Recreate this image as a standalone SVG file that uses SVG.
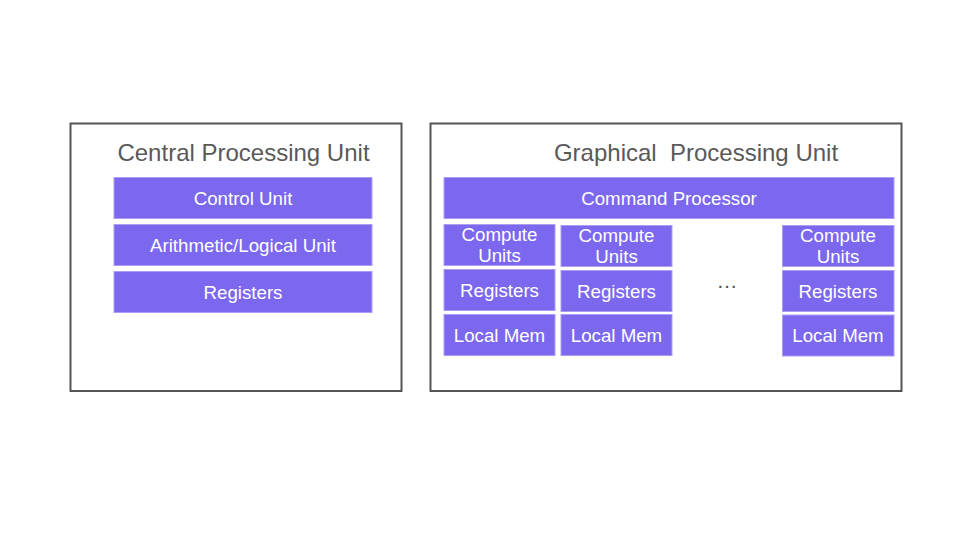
<svg xmlns="http://www.w3.org/2000/svg" width="960" height="540" viewBox="0 0 960 540">
<style>
.frame{fill:#fff;stroke:#555;stroke-width:2}
.blk{fill:#7b68ee;stroke:#a99ef4;stroke-width:1}
.title{font-family:"Liberation Sans",Arial,sans-serif;font-size:24px;fill:#595959;text-anchor:middle}
.lbl{font-family:"Liberation Sans",Arial,sans-serif;font-size:18.7px;fill:#fff;text-anchor:middle}
</style>
<rect width="960" height="540" fill="#fff"/>
<g id="cpu">
<rect class="frame" x="70.5" y="123.5" width="331" height="267.5"/>
<text class="title" x="243.5" y="161">Central Processing Unit</text>
</g>
<g id="control-unit"><rect class="blk" x="114" y="177.5" width="258" height="41"/><text class="lbl" x="243" y="204.5">Control Unit</text></g>
<g id="alu"><rect class="blk" x="114" y="224.5" width="258" height="41"/><text class="lbl" x="243" y="251.5">Arithmetic/Logical Unit</text></g>
<g id="cpu-registers"><rect class="blk" x="114" y="271.5" width="258" height="41"/><text class="lbl" x="243" y="298.5">Registers</text></g>
<g id="gpu">
<rect class="frame" x="430.5" y="123.5" width="471" height="267.5"/>
<text class="title" x="696" y="161" xml:space="preserve">Graphical  Processing Unit</text>
</g>
<g id="command-processor"><rect class="blk" x="444" y="177.5" width="450" height="41"/><text class="lbl" x="669" y="204.5">Command Processor</text></g>
<g id="cu1"><rect class="blk" x="444" y="224.5" width="111" height="41"/><text class="lbl" x="499.5" y="241">Compute</text><text class="lbl" x="499.5" y="262">Units</text></g>
<g id="reg1"><rect class="blk" x="444" y="269.5" width="111" height="41"/><text class="lbl" x="499.5" y="296.5">Registers</text></g>
<g id="mem1"><rect class="blk" x="444" y="314.5" width="111" height="41"/><text class="lbl" x="499.5" y="341.5">Local Mem</text></g>
<g id="cu2"><rect class="blk" x="561" y="225.5" width="111" height="41"/><text class="lbl" x="616.5" y="242">Compute</text><text class="lbl" x="616.5" y="263">Units</text></g>
<g id="reg2"><rect class="blk" x="561" y="270.5" width="111" height="41"/><text class="lbl" x="616.5" y="297.5">Registers</text></g>
<g id="mem2"><rect class="blk" x="561" y="314.5" width="111" height="41"/><text class="lbl" x="616.5" y="341.5">Local Mem</text></g>
<g id="cu3"><rect class="blk" x="782.5" y="225.5" width="111.5" height="41"/><text class="lbl" x="838" y="242">Compute</text><text class="lbl" x="838" y="263">Units</text></g>
<g id="reg3"><rect class="blk" x="782.5" y="270.5" width="111.5" height="41"/><text class="lbl" x="838" y="297.5">Registers</text></g>
<g id="mem3"><rect class="blk" x="782.5" y="315" width="111.5" height="41"/><text class="lbl" x="838" y="342">Local Mem</text></g>
<g id="ellipsis"><text x="727" y="288" font-family="Liberation Sans,Arial,sans-serif" font-size="21" fill="#555" text-anchor="middle">…</text></g>
<g id="connectors"/>
</svg>
